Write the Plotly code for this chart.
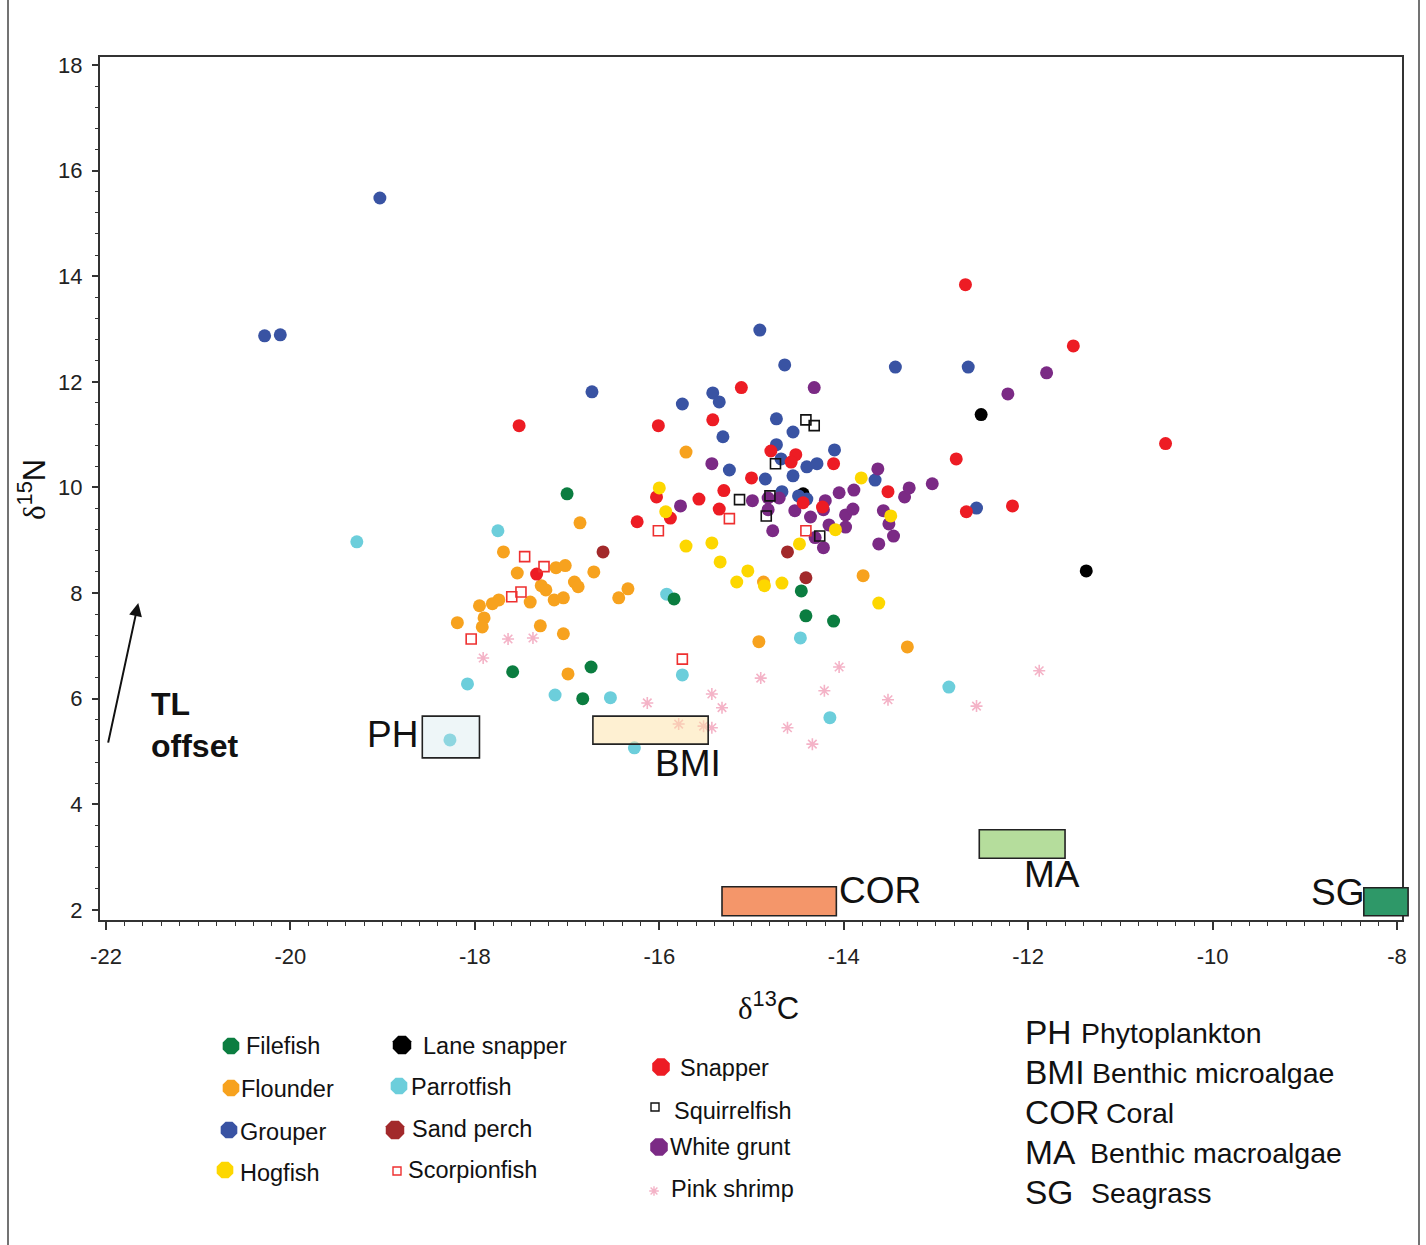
import plotly.graph_objects as go

W, H = 1426, 1245
# plot-area pixel frame
PL, PR, PT, PB = 100, 1402, 57, 920
XR = [-22.065, -7.946]
YR = [1.81, 18.15]

# ---------------- data (delta13C, delta15N) ----------------
flounder_x = [-15.71, -16.86, -17.69, -17.54, -17.12, -17.02, -16.71, -17.28, -17.23, -16.92, -16.88, -16.34, -16.44,
              -17.14, -17.04, -17.40, -17.74, -17.81, -17.95, -17.90, -17.92, -18.19, -17.29, -17.04, -16.99, -14.87,
              -14.92, -13.79, -13.31]
flounder_y = [10.67, 9.33, 8.78, 8.38, 8.48, 8.52, 8.40, 8.14, 8.06, 8.21, 8.12, 8.08, 7.91, 7.87, 7.91, 7.83, 7.87,
              7.80, 7.76, 7.53, 7.36, 7.44, 7.38, 7.23, 6.47, 8.21, 7.08, 8.33, 6.98]

lane_x = [-14.44, -12.51, -11.37]
lane_y = [9.88, 11.38, 8.42]

grouper_x = [-19.03, -20.28, -20.11, -14.91, -14.64, -13.44, -12.65, -16.73, -15.42, -15.35, -15.75, -14.73, -14.55,
             -15.31, -14.73, -14.10, -14.68, -14.40, -14.29, -15.24, -14.55, -14.85, -14.67, -14.49, -14.40, -13.66,
             -12.56]
grouper_y = [15.48, 12.87, 12.89, 12.98, 12.32, 12.28, 12.28, 11.81, 11.79, 11.62, 11.58, 11.30, 11.05, 10.96, 10.81,
             10.71, 10.54, 10.39, 10.45, 10.33, 10.22, 10.16, 9.92, 9.84, 9.78, 10.14, 9.61]

grunt_x = [-14.32, -11.80, -12.22, -15.43, -15.77, -14.99, -14.82, -14.70, -14.82, -14.77, -14.53, -14.36, -14.20,
           -14.22, -14.31, -14.22, -14.16, -14.05, -13.98, -13.98, -13.89, -13.90, -13.63, -13.57, -13.51, -13.62,
           -13.46, -13.34, -13.29, -13.04]
grunt_y = [11.89, 12.17, 11.77, 10.45, 9.65, 9.75, 9.80, 9.80, 9.58, 9.18, 9.56, 9.44, 9.75, 9.58, 9.05, 8.86, 9.29,
           9.90, 9.48, 9.25, 9.95, 9.59, 10.35, 9.56, 9.31, 8.93, 9.08, 9.82, 9.99, 10.07]

snapper_x = [-12.68, -11.51, -10.51, -17.52, -15.11, -16.01, -15.42, -14.79, -14.52, -14.57, -14.11, -12.78, -15.00,
             -15.30, -16.03, -15.57, -13.52, -14.44, -14.23, -15.35, -12.17, -12.67, -15.88, -16.24, -17.33]
snapper_y = [13.84, 12.68, 10.83, 11.17, 11.89, 11.17, 11.28, 10.69, 10.62, 10.48, 10.45, 10.54, 10.18, 9.94, 9.82,
             9.78, 9.92, 9.71, 9.63, 9.59, 9.65, 9.54, 9.42, 9.35, 8.36]

hogfish_x = [-16.00, -15.93, -15.71, -15.43, -15.34, -15.04, -15.16, -14.86, -14.67, -14.48, -14.09, -13.81, -13.49,
             -13.62]
hogfish_y = [9.99, 9.54, 8.89, 8.95, 8.59, 8.42, 8.21, 8.14, 8.19, 8.93, 9.20, 10.18, 9.46, 7.81]

parrot_x = [-19.28, -17.75, -15.92, -15.75, -18.08, -17.13, -16.53, -16.27, -18.27, -14.47, -14.15, -12.86]
parrot_y = [8.97, 9.18, 7.98, 6.45, 6.28, 6.07, 6.02, 5.07, 5.22, 7.15, 5.64, 6.22]

filefish_x = [-17.00, -15.84, -16.74, -17.59, -16.83, -14.46, -14.41, -14.11]
filefish_y = [9.88, 7.89, 6.60, 6.51, 6.00, 8.04, 7.57, 7.47]

sandperch_x = [-16.61, -14.61, -14.41]
sandperch_y = [8.78, 8.78, 8.29]

squirrel_x = [-14.41, -14.32, -14.74, -15.13, -14.80, -14.84, -14.26]
squirrel_y = [11.28, 11.17, 10.45, 9.77, 9.84, 9.46, 9.08]

scorpion_x = [-16.01, -17.46, -17.25, -17.50, -17.60, -18.04, -15.75, -15.24, -14.41]
scorpion_y = [9.18, 8.69, 8.50, 8.02, 7.93, 7.13, 6.75, 9.41, 9.18]

shrimp_x = [-17.64, -17.37, -17.91, -16.13, -15.43, -15.32, -15.79, -15.52, -15.43, -14.90, -14.61, -14.34, -14.21,
            -14.05, -13.52, -12.56, -11.88]
shrimp_y = [7.13, 7.15, 6.77, 5.92, 6.09, 5.83, 5.52, 5.48, 5.45, 6.39, 5.45, 5.14, 6.15, 6.60, 5.98, 5.86, 6.53]

# primary producer source boxes
src_names = ["PH", "BMI", "COR", "MA", "SG"]
src_x0 = [-18.57, -16.72, -15.32, -12.53, -8.36]
src_x1 = [-17.95, -15.47, -14.08, -11.60, -7.88]
src_y0 = [4.88, 5.14, 1.89, 2.98, 1.89]
src_y1 = [5.67, 5.67, 2.44, 3.52, 2.42]
src_full = ["Phytoplankton", "Benthic microalgae", "Coral", "Benthic macroalgae", "Seagrass"]

x_ticks = [-22, -20, -18, -16, -14, -12, -10, -8]
x_ticktext = ["-22", "-20", "-18", "-16", "-14", "-12", "-10", "-8"]
y_ticks = [2, 4, 6, 8, 10, 12, 14, 16, 18]

# ---------------- styles ----------------
FONT = "Liberation Sans, Arial, sans-serif"
C = dict(filefish="#0b7d40", flounder="#f7a21e", grouper="#3953a3", hogfish="#fdd700", lane="#000000",
         parrot="#6ccedb", sandperch="#a2292b", scorpion="#ee3030", snapper="#ed1c24", squirrel="#111111",
         grunt="#7b2a85", shrimp="#f4b3c7")

series = [
    ("lane", lane_x, lane_y, "circle", 13, False),
    ("flounder", flounder_x, flounder_y, "circle", 13, False),
    ("grouper", grouper_x, grouper_y, "circle", 13, False),
    ("grunt", grunt_x, grunt_y, "circle", 13, False),
    ("snapper", snapper_x, snapper_y, "circle", 13, False),
    ("hogfish", hogfish_x, hogfish_y, "circle", 13, False),
    ("parrot", parrot_x, parrot_y, "circle", 13, False),
    ("filefish", filefish_x, filefish_y, "circle", 13, False),
    ("sandperch", sandperch_x, sandperch_y, "circle", 13, False),
    ("squirrel", squirrel_x, squirrel_y, "square-open", 10, True),
    ("scorpion", scorpion_x, scorpion_y, "square-open", 10, True),
    ("shrimp", shrimp_x, shrimp_y, "asterisk-open", 10, True),
]

fig = go.Figure()
for key, xs, ys, sym, sz, is_line in series:
    mk = dict(symbol=sym, size=sz, color=C[key])
    mk["line"] = dict(color=C[key], width=1.6 if is_line else 0)
    fig.add_trace(go.Scatter(x=xs, y=ys, mode="markers", marker=mk, showlegend=False,
                             hoverinfo="x+y", xaxis="x", yaxis="y"))


def to_px(x, y):
    px = PL + (x - XR[0]) / (XR[1] - XR[0]) * (PR - PL)
    py = PB - (y - YR[0]) / (YR[1] - YR[0]) * (PB - PT)
    return px, py


src_fill = ["rgba(206,229,235,0.35)", "rgba(253,226,165,0.5)", "#f4966a", "#b5dd9c", "#2e9868"]
shapes = []
for i in range(len(src_names)):
    ax0, ay0 = to_px(src_x0[i], src_y0[i])
    ax1, ay1 = to_px(src_x1[i], src_y1[i])
    shapes.append(dict(type="rect", xref="x2", yref="y2", x0=ax0, x1=ax1, y0=ay0, y1=ay1,
                       fillcolor=src_fill[i], line=dict(color="#222222", width=1.6), layer="above"))

# outer frame lines
shapes.append(dict(type="line", xref="x2", yref="y2", x0=8, x1=8, y0=0, y1=H, line=dict(color="#444", width=1.5)))
shapes.append(dict(type="line", xref="x2", yref="y2", x0=1419, x1=1419, y0=0, y1=H, line=dict(color="#444", width=1.5)))

ann = []
# source labels (data coordinates)
lab_pos = [(-18.59, 5.33, "right"), (-16.07, 4.78, "left"), (-14.07, 2.36, "left"), (-12.07, 2.68, "left"),
           (-8.34, 2.34, "right")]
for nm, (lx, ly, anc) in zip(src_names, lab_pos):
    ann.append(dict(x=lx, y=ly, xref="x", yref="y", text=nm, showarrow=False, xanchor=anc, yanchor="middle",
                    font=dict(family=FONT, size=37, color="#111")))

# TL offset arrow
ann.append(dict(x=-21.65, y=7.81, ax=-21.98, ay=5.14, xref="x", yref="y", axref="x", ayref="y", text="",
                showarrow=True, arrowhead=2, arrowsize=1.3, arrowwidth=2, arrowcolor="#111"))
ann.append(dict(x=149, y=725, xref="x2", yref="y2", text="<b>TL<br>offset</b>", showarrow=False, xanchor="left",
                yanchor="middle", align="left", font=dict(family=FONT, size=32, color="#111")))

# axis titles
ann.append(dict(x=32, y=490, xref="x2", yref="y2", textangle=-90, showarrow=False, xanchor="center",
                yanchor="middle",
                text="<span style='font-family:Liberation Serif'>δ</span><sup>15</sup>N",
                font=dict(family=FONT, size=31, color="#111")))
ann.append(dict(x=768, y=1006, xref="x2", yref="y2", showarrow=False, xanchor="center", yanchor="middle",
                text="<span style='font-family:Liberation Serif'>δ</span><sup>13</sup>C",
                font=dict(family=FONT, size=31, color="#111")))

# custom legend
leg_items = [
    ("Filefish", "filefish", "octagon", 18, 231, 1046, 244, 1046),
    ("Flounder", "flounder", "octagon", 18, 231, 1088, 239, 1089),
    ("Grouper", "grouper", "octagon", 18, 229, 1130, 238, 1132),
    ("Hogfish", "hogfish", "octagon", 18, 225, 1170, 238, 1173),
    ("Lane snapper", "lane", "octagon", 20, 402, 1045, 421, 1046),
    ("Parrotfish", "parrot", "octagon", 18, 399, 1086, 409, 1087),
    ("Sand perch", "sandperch", "octagon", 20, 395, 1130, 410, 1129),
    ("Scorpionfish", "scorpion", "square-open", 8, 397, 1171, 406, 1170),
    ("Snapper", "snapper", "octagon", 19, 661, 1067, 678, 1068),
    ("Squirrelfish", "squirrel", "square-open", 8, 655, 1107, 672, 1111),
    ("White grunt", "grunt", "octagon", 19, 659, 1147, 668, 1147),
    ("Pink shrimp", "shrimp", "asterisk-open", 8, 654, 1191, 669, 1189),
]
for label, key, sym, sz, mx, my, tx, ty in leg_items:
    open_sym = sym.endswith("open")
    fig.add_trace(go.Scatter(x=[mx], y=[my], mode="markers", xaxis="x2", yaxis="y2", showlegend=False,
                             hoverinfo="skip", cliponaxis=False,
                             marker=dict(symbol=sym, size=sz, color=C[key],
                                         line=dict(color=C[key], width=1.4 if open_sym else 0))))
    ann.append(dict(x=tx, y=ty, xref="x2", yref="y2", text=label, showarrow=False, xanchor="left",
                    yanchor="middle", font=dict(family=FONT, size=23.5, color="#111")))

# source legend (right)
src_lx = [1079, 1090, 1104, 1088, 1089]
src_ly = [1032, 1072, 1112, 1152, 1192]
for nm, full, dx, ly in zip(src_names, src_full, src_lx, src_ly):
    ann.append(dict(x=1023, y=ly, xref="x2", yref="y2", text=nm, showarrow=False, xanchor="left",
                    yanchor="middle", font=dict(family=FONT, size=33.5, color="#111")))
    ann.append(dict(x=dx, y=ly + 1, xref="x2", yref="y2", text=full, showarrow=False, xanchor="left",
                    yanchor="middle", font=dict(family=FONT, size=28.5, color="#111")))

axis_common = dict(showline=True, linecolor="#333", linewidth=2, mirror=True, showgrid=False, zeroline=False,
                   automargin=False, ticks="outside", tickcolor="#333", tickwidth=1.6,
                   tickfont=dict(family=FONT, size=22, color="#222"))

fig.update_layout(
    width=W, height=H, autosize=False,
    margin=dict(l=0, r=0, t=0, b=0, pad=0, autoexpand=False),
    paper_bgcolor="white", plot_bgcolor="rgba(0,0,0,0)",
    showlegend=False,
    xaxis=dict(domain=[PL / W, PR / W], range=XR, anchor="y", tickmode="array", tickvals=x_ticks,
               ticktext=x_ticktext, ticklen=8, ticklabelstandoff=8,
               minor=dict(dtick=0.2, tick0=-22, ticks="outside", ticklen=4, tickcolor="#333", tickwidth=1.4),
               **axis_common),
    yaxis=dict(domain=[(H - PB) / H, (H - PT) / H], range=YR, anchor="x", tickmode="array", tickvals=y_ticks,
               ticklen=6, ticklabelstandoff=5,
               minor=dict(dtick=0.4, tick0=2, ticks="outside", ticklen=3, tickcolor="#333", tickwidth=1.4),
               **axis_common),
    xaxis2=dict(domain=[0, 1], range=[0, W], anchor="y2", visible=False, fixedrange=True, automargin=False),
    yaxis2=dict(domain=[0, 1], range=[H, 0], anchor="x2", visible=False, fixedrange=True, automargin=False),
    shapes=shapes,
    annotations=ann,
)

fig.write_html("out.html", config={"responsive": False, "displayModeBar": False},
               post_script="document.body.style.margin='0';document.body.style.overflow='hidden';")
